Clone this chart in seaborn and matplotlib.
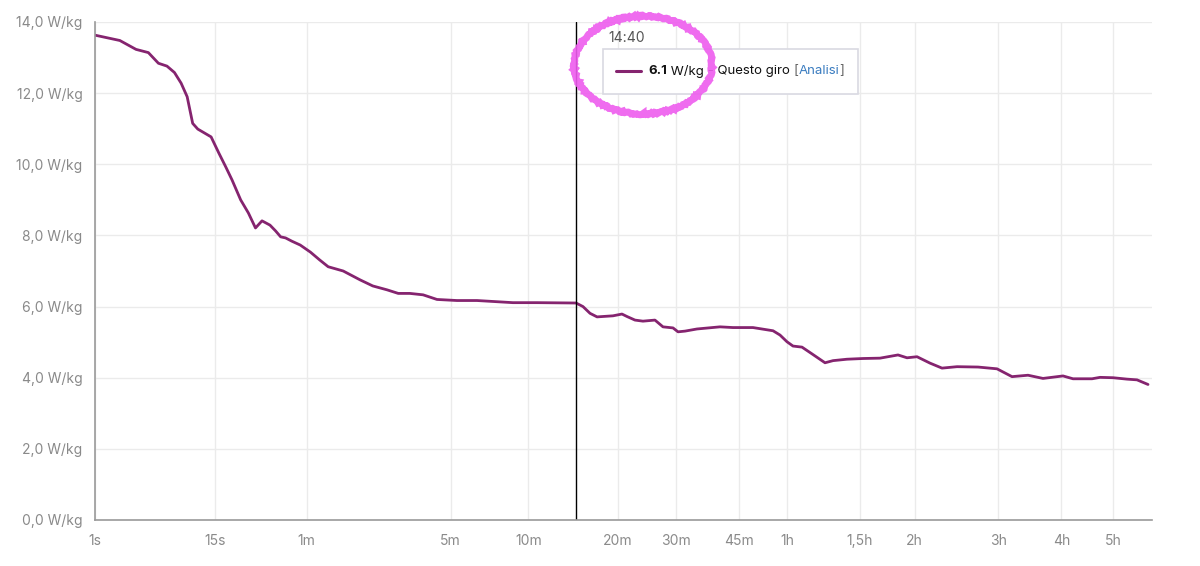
import matplotlib
matplotlib.use("Agg")
import matplotlib.pyplot as plt
import seaborn as sns
import numpy as np
import pandas as pd
from matplotlib.patches import Ellipse, Rectangle

# durata (s) e potenza (W/kg)
durata = [1, 2, 3, 4, 5, 6, 7, 8, 9, 10, 11, 14, 16, 18, 20, 23, 26, 29, 32, 36,
          39, 42, 45, 49, 55, 63, 71, 79, 95, 116, 134, 157, 177, 200, 229, 263,
          319, 384, 527, 645, 880, 928, 979, 1032, 1161, 1239, 1285, 1360, 1438,
          1563, 1651, 1767, 1827, 1914, 2070, 2399, 2603, 2942, 3317, 3456, 3601,
          3728, 3926, 4156, 4471, 4674, 5046, 5502, 6020, 6611, 6924, 7285, 7776,
          8253, 8882, 9826, 10748, 11523, 12399, 13267, 14501, 15151, 16451,
          17024, 17989, 19077, 19885, 20808]
potenza = [13.63, 13.48, 13.23, 13.14, 12.84, 12.76, 12.58, 12.28, 11.90, 11.15,
           10.99, 10.77, 10.32, 9.93, 9.56, 9.00, 8.63, 8.21, 8.41, 8.29, 8.13,
           7.96, 7.93, 7.84, 7.73, 7.53, 7.31, 7.12, 7.00, 6.75, 6.58, 6.47, 6.37,
           6.37, 6.33, 6.20, 6.17, 6.17, 6.11, 6.11, 6.10, 6.00, 5.81, 5.71, 5.74,
           5.79, 5.72, 5.62, 5.59, 5.62, 5.43, 5.40, 5.29, 5.31, 5.37, 5.43, 5.41,
           5.41, 5.32, 5.20, 5.01, 4.89, 4.86, 4.67, 4.42, 4.48, 4.52, 4.54, 4.55,
           4.64, 4.56, 4.59, 4.41, 4.27, 4.31, 4.30, 4.25, 4.03, 4.07, 3.98, 4.05,
           3.97, 3.97, 4.01, 4.00, 3.96, 3.94, 3.81]

xticks = [1, 15, 60, 300, 600, 1200, 1800, 2700, 3600, 5400, 7200, 10800, 14400, 18000]
xlabels = ["1s", "15s", "1m", "5m", "10m", "20m", "30m", "45m", "1h", "1,5h", "2h", "3h", "4h", "5h"]
yticks = [0, 2, 4, 6, 8, 10, 12, 14]
ylabels = ["0,0 W/kg", "2,0 W/kg", "4,0 W/kg", "6,0 W/kg", "8,0 W/kg", "10,0 W/kg", "12,0 W/kg", "14,0 W/kg"]
t_max = 21150
t_cursore = 880
val_cursore = "6.1"

df = pd.DataFrame({"durata": durata, "potenza": potenza})

sns.set_theme(style="whitegrid")
plt.rcParams['font.family'] = ['Inter', 'DejaVu Sans']

viola = "#85246f"
grigio = "#8a8a8a"

fig = plt.figure(figsize=(12, 5.66), dpi=100)
ax = fig.add_axes([95/1200, 46/566, (1152-95)/1200, (520-22)/566])

sns.lineplot(data=df, x="durata", y="potenza", ax=ax, color=viola, linewidth=2.0)

# scala a potenza 1/5 come nel grafico originale
ax.set_xscale("function", functions=(lambda t: np.power(np.clip(t, 0, None), 0.2),
                                     lambda u: np.power(u, 5)))
ax.set_xlim(1, t_max)
ax.set_ylim(0, 14)
ax.set_xticks(xticks)
ax.set_xticklabels(xlabels)
ax.set_xticks([t_max], minor=True)
ax.set_yticks(yticks)
ax.set_yticklabels(ylabels)
ax.set_xlabel("")
ax.set_ylabel("")

ax.grid(True, color="#ebebeb", linewidth=1)
ax.set_facecolor("white")
for s in ["top", "right"]:
    ax.spines[s].set_visible(False)
for s in ["left", "bottom"]:
    ax.spines[s].set_color("#9a9a9a")
    ax.spines[s].set_linewidth(1.2)
ax.tick_params(axis="both", which="both", colors="#9a9a9a", labelcolor=grigio,
               labelsize=10, length=6, width=1.2, direction="out")
ax.tick_params(axis="x", pad=4)
ax.tick_params(axis="y", pad=3)

# cursore verticale
ax.axvline(t_cursore, color="black", linewidth=1)

# tooltip
tf = fig.transFigure
fig.text(608/1200, 1-38/566, "14:40", fontsize=10, color="#555555", va="center", ha="left")
box = Rectangle((603/1200, 1-94/566), (858-603)/1200, (94-49)/566, transform=tf,
                facecolor="white", edgecolor="#d9d9e2", linewidth=1.2, zorder=10, clip_on=False)
ax.add_artist(box)
ax.add_artist(plt.Line2D([616/1200, 641/1200], [1-71/566, 1-71/566], transform=tf,
                         color=viola, linewidth=2.2, zorder=11, clip_on=False))
t1 = ax.text(648/1200, 1-71/566, val_cursore, transform=tf, fontsize=9.5, fontweight="bold",
             color="#111111", va="center", ha="left", zorder=11)
t2 = ax.annotate(" W/kg", xy=(1, 0.5), xycoords=t1, va="center", ha="left",
                 fontsize=9.5, color="#111111", zorder=11)
t3 = ax.annotate(" - Questo giro ", xy=(1, 0.5), xycoords=t2, va="center", ha="left",
                 fontsize=9.5, color="#111111", zorder=11)
t4 = ax.annotate("[", xy=(1, 0.5), xycoords=t3, va="center", ha="left",
                 fontsize=9.5, color="#666666", zorder=11)
t5 = ax.annotate("Analisi", xy=(1, 0.5), xycoords=t4, va="center", ha="left",
                 fontsize=9.5, color="#3a7cc0", zorder=11)
ax.annotate("]", xy=(1, 0.5), xycoords=t5, va="center", ha="left",
            fontsize=9.5, color="#666666", zorder=11)

# cerchio rosa evidenziatore
ell = Ellipse((643/1200, 1-65/566), 138/1200, 98/566, transform=tf,
              fill=False, edgecolor="#ee5cee", linewidth=5, alpha=0.9)
ell.set_sketch_params(scale=0.8, length=4, randomness=6)
fig.patches.append(ell)

fig.savefig("out.png", dpi=100, facecolor="white")
